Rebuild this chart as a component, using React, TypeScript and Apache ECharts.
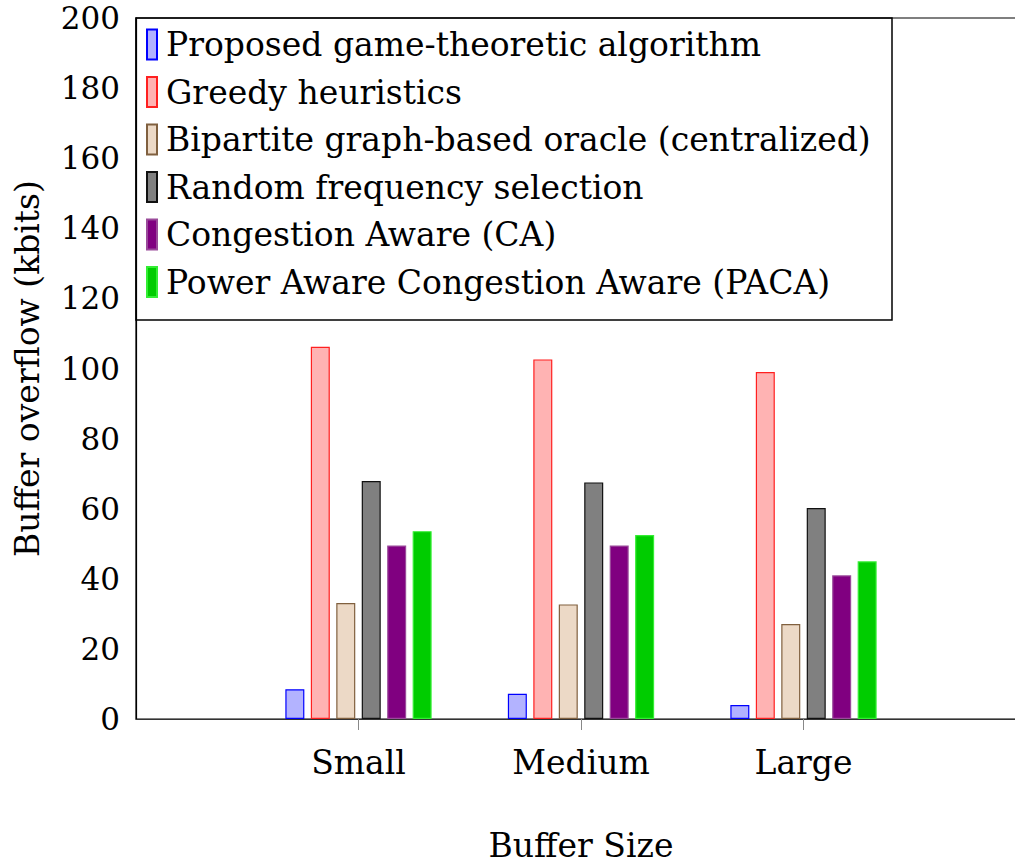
import React, { useEffect, useRef } from "react";
import * as echarts from "echarts";

const categories = ["", "Small", "Medium", "Large", ""];
const seriesNames = [
  "Proposed game-theoretic algorithm",
  "Greedy heuristics",
  "Bipartite graph-based oracle (centralized)",
  "Random frequency selection",
  "Congestion Aware (CA)",
  "Power Aware Congestion Aware (PACA)",
];
const proposed = [8.5, 7.2, 4.0];
const greedy = [106.2, 102.6, 99.0];
const bipartite = [33.1, 32.7, 27.1];
const randomSel = [67.9, 67.5, 60.2];
const ca = [49.5, 49.5, 41.0];
const paca = [53.6, 52.5, 45.0];
const yTicks = { min: 0, max: 200, interval: 20 };

const styles = [
  { fill: "#b3b3ff", border: "#0000ff" },
  { fill: "#ffb3b3", border: "#ff2020" },
  { fill: "#ecd9c6", border: "#80603f" },
  { fill: "#808080", border: "#111111" },
  { fill: "#800080", border: "#9a4a9a" },
  { fill: "#00cc00", border: "#33ee33" },
];

const FONT = "DejaVu Serif";

export default function App() {
  const ref = useRef<HTMLDivElement>(null);
  useEffect(() => {
    if (!ref.current) return;
    const chart = echarts.init(ref.current, undefined, { renderer: "svg" });
    const all = [proposed, greedy, bipartite, randomSel, ca, paca];
    const series = all.map((arr, i) => ({
      name: seriesNames[i],
      type: "bar",
      data: [null, ...arr, null],
      barWidth: 19,
      barGap: "34%",
      itemStyle: {
        color: styles[i].fill,
        borderColor: styles[i].border,
        borderWidth: 1.2,
      },
    }));
    chart.setOption({
      animation: false,
      backgroundColor: "#ffffff",
      textStyle: { fontFamily: FONT },
      grid: {
        left: 136,
        top: 18,
        bottom: 145,
        width: 890,
        show: true,
        borderColor: "#000",
        borderWidth: 1.2,
        containLabel: false,
        outerBoundsMode: "none",
      },
      legend: {
        orient: "vertical",
        left: 146,
        top: 28,
        padding: 0,
        itemWidth: 10,
        itemHeight: 30,
        itemGap: 14.5,
        icon: "rect",
        textStyle: {
          fontFamily: FONT,
          fontSize: 33,
          color: "#000",
          padding: [0, 0, 0, 4],
        },
        data: seriesNames,
      },
      graphic: [
        {
          type: "rect",
          shape: { x: 136, y: 18, width: 756, height: 302 },
          style: { fill: "#fff", stroke: "#000", lineWidth: 1.5 },
          z: -1,
        },
      ],
      xAxis: {
        type: "category",
        data: categories,
        boundaryGap: false,
        name: "Buffer Size",
        nameLocation: "middle",
        nameGap: 110,
        nameTextStyle: { fontFamily: FONT, fontSize: 33, color: "#000" },
        axisLine: { lineStyle: { color: "#333", width: 1.2 } },
        axisTick: {
          show: true,
          interval: (idx: number, val: string) => val !== "",
          length: 11,
          lineStyle: { color: "#888" },
        },
        axisLabel: {
          interval: 0,
          margin: 27,
          fontFamily: FONT,
          fontSize: 33,
          color: "#000",
        },
        splitLine: { show: false },
      },
      yAxis: {
        type: "value",
        min: yTicks.min,
        max: yTicks.max,
        interval: yTicks.interval,
        name: "Buffer overflow (kbits)",
        nameLocation: "middle",
        nameGap: 92,
        nameTextStyle: { fontFamily: FONT, fontSize: 33, color: "#000" },
        axisLine: { show: true, lineStyle: { color: "#000", width: 1.2 } },
        axisTick: { show: false },
        axisLabel: {
          margin: 16,
          fontFamily: FONT,
          fontSize: 31,
          color: "#000",
        },
        splitLine: { show: false },
      },
      series,
    });
    return () => chart.dispose();
  }, []);
  return (
    <div
      style={{
        position: "absolute",
        left: 0,
        top: 0,
        width: 1015,
        height: 864,
        overflow: "hidden",
        background: "#fff",
      }}
    >
      <div ref={ref} style={{ width: 1030, height: 864 }} />
    </div>
  );
}
